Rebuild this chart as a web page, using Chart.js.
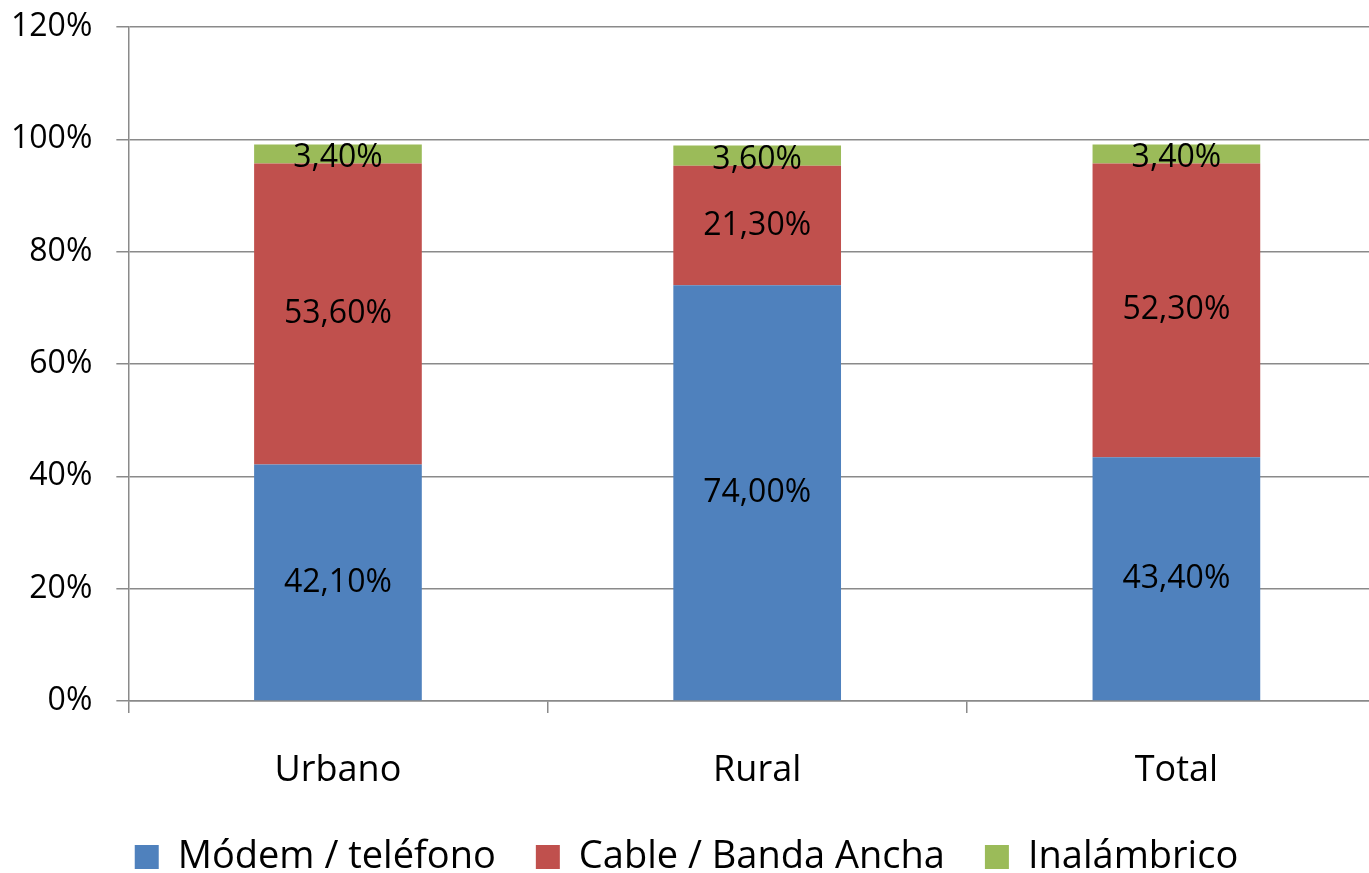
<!DOCTYPE html>
<html>
<head>
<meta charset="utf-8">
<script src="https://cdn.jsdelivr.net/npm/chart.js@4/dist/chart.umd.min.js"></script>
<style>
  html, body { margin: 0; padding: 0; background: #fff; overflow: hidden; }
  #wrap { width: 1386px; height: 873px; }
</style>
</head>
<body>
<div id="wrap"><canvas id="grafico"></canvas></div>
<script>
const categorias = ['Urbano', 'Rural', 'Total'];
const modem = [42.1, 74.0, 43.4];
const cable = [53.6, 21.3, 52.3];
const inalambrico = [3.4, 3.6, 3.4];
const ticksY = [0, 20, 40, 60, 80, 100, 120];

const fuente = '"Open Sans", sans-serif';
const gris = '#8a8a8a';

// Etiquetas dentro de cada barra
const etiquetas = {
  id: 'etiquetas',
  afterDatasetsDraw(chart) {
    const ctx = chart.ctx;
    ctx.save();
    ctx.font = '32px ' + fuente;
    ctx.fillStyle = '#000';
    ctx.textAlign = 'center';
    ctx.textBaseline = 'middle';
    chart.data.datasets.forEach((ds, i) => {
      const meta = chart.getDatasetMeta(i);
      meta.data.forEach((bar, j) => {
        const txt = ds.data[j].toFixed(2).replace('.', ',') + '%';
        let y = (bar.y + bar.base) / 2;
        if (i === 2) y += 4;
        ctx.fillText(txt, bar.x, y);
      });
    });
    ctx.restore();
  }
};

const ctx = document.getElementById('grafico').getContext('2d');
new Chart(ctx, {
  type: 'bar',
  data: {
    labels: categorias,
    datasets: [
      { label: 'Módem / teléfono', data: modem, backgroundColor: '#4F81BD' },
      { label: 'Cable / Banda Ancha', data: cable, backgroundColor: '#C0504D' },
      { label: 'Inalámbrico', data: inalambrico, backgroundColor: '#9BBB59' }
    ]
  },
  options: {
    responsive: true,
    maintainAspectRatio: false,
    animation: false,
    layout: { padding: { left: -13, right: 0, top: 0, bottom: -13 } },
    datasets: {
      bar: { categoryPercentage: 1, barPercentage: 0.4 }
    },
    scales: {
      x: {
        stacked: true,
        afterFit(s) { s.height = 97; },
        grid: { drawOnChartArea: false, color: gris, lineWidth: 1.5, tickLength: 12 },
        border: { color: gris, width: 1.5 },
        ticks: { color: '#000', font: { family: fuente, size: 36 }, padding: 36 }
      },
      y: {
        stacked: true,
        min: 0,
        max: 120,
        afterBuildTicks(axis) {
          axis.ticks = ticksY.map(v => ({ value: v }));
        },
        afterFit(s) { s.paddingTop = 27; s.paddingBottom = 0; },
        grid: { color: gris, lineWidth: 1.5, tickLength: 12 },
        border: { color: gris, width: 1.5 },
        ticks: {
          color: '#000',
          font: { family: fuente, size: 32 },
          padding: 24,
          callback: v => v + '%'
        }
      }
    },
    plugins: {
      legend: {
        position: 'bottom',
        labels: {
          color: '#000',
          font: { family: fuente, size: 38 },
          boxWidth: 24,
          boxHeight: 24,
          padding: 40
        }
      },
      tooltip: { enabled: false }
    }
  },
  plugins: [etiquetas]
});
</script>
</body>
</html>
